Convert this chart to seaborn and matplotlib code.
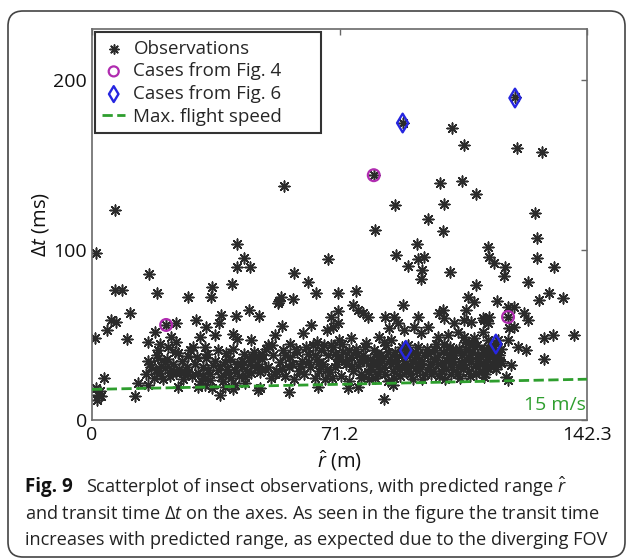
import numpy as np
import pandas as pd
import matplotlib.pyplot as plt
import seaborn as sns
from matplotlib.patches import FancyBboxPatch

# observations: (r_hat in m, delta t in ms)
obs_sparse = [(1.2, 98), (6.6, 123.5), (55.3, 137.6), (41.8, 103.5), (43.8, 95.3), (41.8, 90), (45.5, 90),
              (16.4, 86), (58.2, 86.5), (62.2, 81), (40.3, 80), (67.8, 95),
              (81, 144), (89.3, 175), (121.6, 190), (103.5, 171.8), (107, 161.8), (122.2, 160), (129.4, 157.6),
              (100, 139.4), (106.3, 140.6), (110.4, 133), (87, 126.5), (101.2, 127), (96.5, 118), (81.3, 111.8),
              (100.9, 111.2), (127.4, 121.8), (128, 107), (93.4, 103.5), (87.3, 97), (90.8, 90.6), (93.7, 94.7),
              (95.4, 95.9), (94.8, 88), (113.8, 101.8), (114.1, 95.9), (115.6, 92.4), (118.7, 90), (128, 95.3),
              (132.9, 90), (102.9, 87), (118.4, 85), (94.5, 83), (125.4, 81)]

obs_mid = [(18.7, 74.7), (6.6, 76.5), (8.6, 76.5), (27.7, 72.4), (34.6, 78), (34.3, 72.4), (64.3, 74.7),
           (53.9, 70), (57.9, 71), (54.4, 72.5), (11, 63), (5.5, 59), (6.9, 57.6), (4.3, 53), (37, 62),
           (41.5, 61), (45.2, 64.7), (48, 61), (30, 58.8), (32.8, 54.7), (36.6, 57), (24.2, 57), (21.3, 55.9),
           (18.2, 51.8), (54.7, 55.3), (63, 56), (52.7, 50), (60.8, 51), (35.4, 50), (40.6, 50.6),
           (70.6, 74.7), (76, 76), (53.6, 68.8), (70.6, 64), (68.6, 60.6), (70.6, 57), (69.2, 54.7), (67.7, 53),
           (75, 67.6), (76.4, 64.7), (77.8, 63), (79.3, 60.6), (84.1, 60.6), (86.7, 60.6), (89.3, 67.6),
           (87.9, 57), (85.3, 54), (89.6, 53), (92.5, 54.7), (93.7, 60.6),
           (131.4, 74.7), (135.4, 71.8), (128.5, 70.6), (110.4, 79.4), (108, 72.4), (109.8, 69.4), (116.4, 70),
           (121.3, 66.5), (124.2, 63), (125.4, 58.8), (132.6, 50), (138.6, 50), (119.9, 54), (121.3, 54.7),
           (112.7, 58.8), (114, 60.6), (99.7, 63), (100.9, 64.7), (104, 57), (107, 58.8), (107.5, 64.7),
           (119.6, 66.5), (119.6, 60.6), (101.2, 60), (109, 57.6), (112.4, 60), (113.8, 57), (112.4, 51.8),
           (96.5, 54.7), (94.5, 51.2), (102.3, 50), (105.2, 51.8)]

obs_low = [(0.9, 48), (10, 47.6), (16.2, 46), (3.5, 24.7), (12.4, 14), (13.3, 22), (31, 49), (41.8, 47.6),
           (19.6, 45), (29, 43), (32.6, 43), (45.8, 47), (57, 45),
           (22.8, 48.8), (24.2, 46), (21.9, 43), (19, 41), (24.8, 39.4), (27.7, 37.6), (32.9, 36.5),
           (38.6, 39.4), (38.3, 34), (16.1, 35), (19, 36.5), (21, 34), (43, 35), (45, 36.5), (47, 37),
           (17, 31), (18.4, 29.4), (19.6, 27.6), (21, 30.6), (22.8, 29.4), (24.2, 27.6), (25.6, 28.2),
           (26.8, 26.5), (27.7, 28.2), (30.5, 27.6), (32, 25.9), (33.4, 29.4), (34.9, 32.4), (36.3, 29.4),
           (37.2, 25.3), (39.2, 27.6), (40, 24.7), (41.2, 29.4), (43, 31.2), (44, 25.3), (45.8, 27.6),
           (47.3, 30.6), (16.1, 20.6), (24.8, 19.4), (30.5, 19.4), (36.9, 14.7), (38.3, 19.4), (41.2, 20.6),
           (44, 21.8), (34, 23.5), (32.6, 20.6), (34.6, 18.8), (40.6, 18.2), (47.8, 17.6), (56.5, 16.5),
           (1.5, 12), (1.8, 15), (2.2, 17), (1.2, 19), (2.5, 14),
           (50.7, 44), (64.8, 46), (68.6, 44), (70.9, 47), (74.4, 48.2), (78.7, 45.3), (82.4, 48.8),
           (83.9, 46), (85.9, 47), (48.4, 18.8), (65, 19.4), (73.5, 18.8), (76.4, 19.4), (77.2, 24.7),
           (83.9, 12.4), (86.5, 20.6), (130, 48), (130, 36), (120.5, 32.4), (119, 25.3), (122.5, 43),
           (124.8, 41), (108, 45.3), (99.4, 48.8), (107, 48.8), (109.8, 48.2), (113.8, 47), (116.7, 47),
           (119.6, 47), (114.7, 39.4), (117, 38.2), (117.6, 33.5), (113.8, 30.6), (112.7, 25.3),
           (119.6, 23.5), (90.2, 41), (116.1, 44.7)]

# the crowded band just above the speed line (estimated)
obs_dense = [(46.5, 40), (47.5, 33), (48.2, 28), (49, 36), (50, 42), (50.5, 31), (51.5, 25), (52, 38),
             (53, 29), (54, 34), (55, 41), (55.5, 26), (56.5, 31), (57, 37), (58, 24), (58.6, 42),
             (59.5, 29), (60.3, 35), (61, 27), (62, 39), (62.8, 31), (63.5, 44), (64, 25), (64.6, 36),
             (65.2, 29), (65.8, 41), (66.5, 33), (67, 24), (67.8, 38), (68.5, 28), (69.3, 43), (70, 31),
             (70.8, 36), (71.5, 26), (72.2, 40), (73, 33), (73.8, 23), (74.4, 37), (75, 29), (75.8, 42),
             (76.5, 32), (77.3, 27), (78, 38), (78.8, 35), (79.5, 24), (80.2, 30), (81, 41), (81.6, 34),
             (82.3, 27), (83, 38), (83.8, 31), (84.5, 44), (85, 23), (85.8, 36), (86.4, 29), (87, 40),
             (87.8, 33), (88.5, 26), (89.2, 38), (90, 31), (90.7, 44), (91.3, 27), (92, 35), (92.8, 40),
             (93.4, 29), (94, 33), (94.8, 24), (95.5, 38), (96.2, 42), (96.8, 31), (97.5, 27), (98.2, 36),
             (98.8, 45), (99.5, 33), (100.2, 29), (100.8, 40), (101.5, 24), (102.2, 35), (102.8, 43),
             (103.5, 31), (104.2, 38), (104.8, 27), (105.5, 42), (106, 34), (106.7, 30), (107.3, 46),
             (108, 37), (108.6, 26), (109.3, 40), (110, 32), (110.6, 44), (111.3, 36), (112, 29),
             (112.6, 42), (113.2, 34), (114, 38), (114.6, 44), (115.5, 36), (116.2, 30), (117.5, 42)]

obs_dense2 = [(15.5, 27), (16.8, 33), (17.8, 25), (18.6, 38), (19.8, 32), (20.5, 24), (21.6, 36), (22.4, 26),
              (23.3, 33), (23.9, 40), (25, 30), (25.9, 35), (26.3, 24), (27.2, 31), (28.2, 41), (28.8, 26),
              (29.6, 33), (30.3, 37), (31.2, 23), (31.8, 31), (33, 39), (33.8, 27), (35.5, 35), (36.1, 41),
              (36.8, 32), (37.8, 23), (38.9, 30), (39.6, 36), (40.4, 42), (41.8, 33), (42.4, 26), (43.6, 39),
              (44.5, 29), (45.5, 33), (48.8, 39), (49.6, 30), (51.8, 44), (52.6, 27),
              (54.6, 30), (55.6, 38), (57.5, 33), (59, 40), (59.9, 32),
              (61.5, 43), (62.4, 34), (64.2, 38), (65, 33), (66.8, 44),
              (67.5, 30), (69, 25), (69.8, 39), (70.5, 33), (72, 45), (72.6, 35),
              (74, 41), (74.8, 32), (76.2, 38), (77, 34), (78.5, 43),
              (79.2, 28), (80, 36), (80.7, 33), (81.4, 25), (82, 39), (82.8, 30), (83.5, 35), (84.2, 27),
              (85.2, 40), (86, 33), (86.8, 25), (87.5, 37), (88.2, 30), (89, 43), (89.8, 35), (90.4, 28),
              (91, 39), (91.8, 32), (92.4, 24), (93, 37), (93.8, 43), (94.4, 30), (95, 35), (95.8, 27),
              (96.5, 39), (97.2, 33), (98, 29), (98.5, 41), (99.2, 37), (99.8, 26), (100.5, 34), (101.2, 45),
              (101.8, 30), (102.5, 38), (103.2, 27), (103.8, 35), (104.5, 41), (105.2, 31), (105.8, 25),
              (106.4, 38), (107, 33), (107.6, 42), (108.3, 29), (109, 35), (109.6, 45), (110.3, 27),
              (110.9, 38), (111.6, 33), (112.3, 40), (112.9, 27), (113.6, 36), (114.3, 32), (115, 41),
              (115.8, 34), (116.5, 39), (117.2, 35)]

fig4_r = [21.3, 81, 119.6]
fig4_dt = [55.9, 144, 60.6]
fig6_r = [89.3, 121.6, 90.2, 116.1]
fig6_dt = [174.7, 189.4, 41, 44.7]

speed_r = [0, 142.3]
speed_dt = [18, 24]

obs = pd.DataFrame(obs_sparse + obs_mid + obs_low + obs_dense + obs_dense2, columns=['r', 'dt'])

sns.set_theme(style='white')
plt.rcParams['font.family'] = ['Open Sans', 'DejaVu Sans']
plt.rcParams['mathtext.fontset'] = 'custom'
plt.rcParams['mathtext.rm'] = 'Open Sans'
plt.rcParams['mathtext.it'] = 'Open Sans:italic'

fig = plt.figure(figsize=(6.27, 5.59), dpi=100)
ax = fig.add_axes([92 / 627, 1 - 420 / 559, 495 / 627, 391 / 559])

sns.scatterplot(x=obs['r'], y=obs['dt'], marker=(8, 2, 0), s=60, color='#2b2b2b',
                linewidth=1.15, ax=ax, label='Observations', zorder=2)
sns.scatterplot(x=fig4_r, y=fig4_dt, marker='o', s=72, facecolor='none', edgecolor='#b02cb0',
                linewidth=1.6, ax=ax, label='Cases from Fig. 4', zorder=3)
sns.scatterplot(x=fig6_r, y=fig6_dt, marker='d', s=90, facecolor='none', edgecolor='#2626e0',
                linewidth=1.7, ax=ax, label='Cases from Fig. 6', zorder=3)
sns.lineplot(x=speed_r, y=speed_dt, color='#2e9e2e', linestyle='--', linewidth=2, ax=ax,
             label='Max. flight speed', zorder=4)

ax.set_xlim(0, 142.3)
ax.set_ylim(0, 230)
ax.set_xticks([0, 71.2, 142.3])
ax.set_xticklabels(['0', '71.2', '142.3'])
ax.set_yticks([0, 100, 200])
ax.tick_params(direction='in', length=4, width=1, color='#666666', top=True, right=True,
               labelsize=14, labelcolor='#111111')
ax.tick_params(axis='x', pad=4.5)
ax.tick_params(axis='y', pad=3.5)
for s in ax.spines.values():
    s.set_color('#6a6a6a')
    s.set_linewidth(1.2)
ax.set_xlabel(r'$\hat{r}$ (m)', fontsize=14.5, labelpad=3, color='#111111')
ax.set_ylabel(r'$\Delta t$ (ms)', fontsize=14.5, labelpad=2, color='#111111')

ax.text(0.997, 0.038, '15 m/s', transform=ax.transAxes, ha='right', va='center',
        color='#2e9e2e', fontsize=14)

leg = ax.legend(loc='upper left', bbox_to_anchor=(0.006, 0.731, 0.457, 0.261), mode='expand',
                fontsize=13.5, frameon=True, fancybox=False, edgecolor='black', handlelength=1.2,
                handletextpad=0.45, labelspacing=0.25, borderpad=0.4, borderaxespad=0,
                markerscale=0.85)
leg.get_frame().set_linewidth(1.5)

# caption
cap_fs = 13.1
fig.text(25 / 627, 1 - 487 / 559, 'Fig. 9', fontsize=cap_fs + 0.4, fontweight='bold', va='center', color='#111111')
fig.text(86 / 627, 1 - 487 / 559, r'Scatterplot of insect observations, with predicted range $\hat{r}$',
         fontsize=cap_fs, va='center', color='#222222')
fig.text(25 / 627, 1 - 514 / 559, r'and transit time $\Delta t$ on the axes. As seen in the figure the transit time',
         fontsize=cap_fs, va='center', color='#222222')
fig.text(25 / 627, 1 - 540 / 559, 'increases with predicted range, as expected due to the diverging FOV',
         fontsize=cap_fs, va='center', color='#222222')

box = FancyBboxPatch((0.08, 0.02), 6.17, 5.46, boxstyle='round,pad=0,rounding_size=0.15',
                     transform=fig.dpi_scale_trans, facecolor='none', edgecolor='#444444', linewidth=1.2)
fig.patches.append(box)

fig.savefig('out.png', dpi=100)
